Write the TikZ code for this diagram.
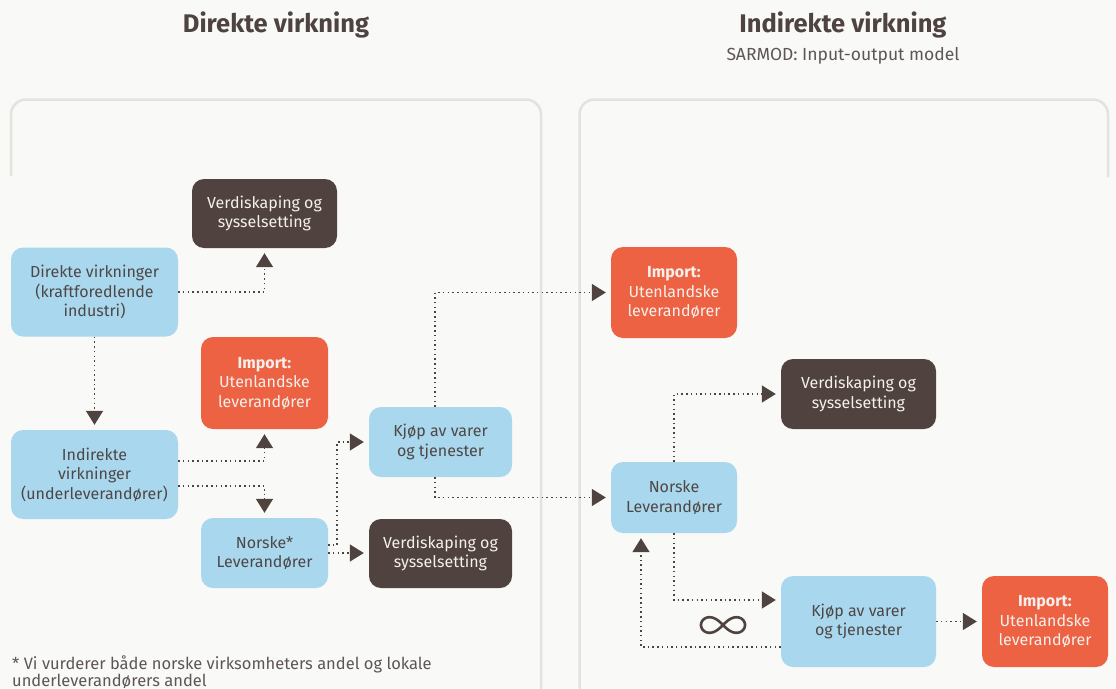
\documentclass[tikz,border=0pt]{standalone}
\usepackage{fontspec}
\setmainfont{Fira Sans}
\usetikzlibrary{arrows.meta}
\definecolor{bgc}{HTML}{F9F9F7}
\definecolor{panelc}{HTML}{E3E3DD}
\definecolor{boxblue}{HTML}{A9D8EE}
\definecolor{boxorange}{HTML}{EC6243}
\definecolor{boxdark}{HTML}{50433F}
\definecolor{txtdark}{HTML}{4E4745}
\definecolor{txtlight}{HTML}{F5F0EC}
\definecolor{titlec}{HTML}{4E4340}
\definecolor{subc}{HTML}{5E5654}
\definecolor{arrowc}{HTML}{4F433F}
\begin{document}
\begin{tikzpicture}[x=1pt,y=-1pt,
  box/.style={rounded corners=12pt, align=center, inner sep=0pt, font=\fontsize{16}{19.5}\selectfont},
  bluebox/.style={box, fill=boxblue, text=txtdark},
  darkbox/.style={box, fill=boxdark, text=txtlight},
  orangebox/.style={box, fill=boxorange, text=txtlight},
  link/.style={draw=arrowc, line width=1.5pt, dash pattern=on 1.5pt off 3.2pt,
    -{Triangle[width=17pt,length=14pt]}, shorten >=5pt},
  panel/.style={draw=panelc, line width=2.5pt, rounded corners=15pt},
  titletext/.style={anchor=base, text=titlec, font=\fontsize{25.5}{30}\selectfont\bfseries},
  subtext/.style={anchor=base, text=subc, font=\fontsize{17.5}{21}\selectfont},
  foottext/.style={anchor=base west, inner sep=0pt, text=subc, font=\fontsize{16.5}{19}\selectfont}]
\useasboundingbox (0,0) rectangle (1116,688);
\fill[bgc] (0,0) rectangle (1116,688);

% panels
\draw[panel] (11,176) -- (11,99.5) -- (541,99.5) -- (541,690);
\draw[panel] (579.5,690) -- (579.5,99.5) -- (1108,99.5) -- (1108,177);

% titles
\node[titletext] (t1) at (276,32) {Direkte virkning};
\node[titletext] (t2) at (843,32) {Indirekte virkning};
\node[subtext] (t3) at (843,60) {SARMOD: Input-output model};

% left nodes
\node[darkbox, minimum width=145pt, minimum height=69pt] (V1) at (264.5,213.5) {Verdiskaping og\\sysselsetting};
\node[bluebox, minimum width=167pt, minimum height=89pt] (D) at (94.5,292) {Direkte virkninger\\(kraftforedlende\\industri)};
\node[orangebox, minimum width=127pt, minimum height=92pt] (Imp1) at (264.5,383) {\textbf{Import:}\\Utenlandske\\leverandører};
\node[bluebox, minimum width=167pt, minimum height=89pt] (I) at (94.5,474.5) {Indirekte\\virkninger\\(underleverandører)};
\node[bluebox, minimum width=127pt, minimum height=70pt] (N1) at (264.5,553) {Norske*\\Leverandører};
\node[bluebox, minimum width=143pt, minimum height=70pt] (K1) at (440.5,442) {Kjøp av varer\\og tjenester};
\node[darkbox, minimum width=143pt, minimum height=69pt] (V2) at (440.5,553.5) {Verdiskaping og\\sysselsetting};

% right nodes
\node[orangebox, minimum width=126pt, minimum height=91pt] (Imp2) at (674,292.5) {\textbf{Import:}\\Utenlandske\\leverandører};
\node[bluebox, minimum width=126pt, minimum height=71pt] (N2) at (674,497.5) {Norske\\Leverandører};
\node[darkbox, minimum width=155pt, minimum height=70pt] (V3) at (858.5,394) {Verdiskaping og\\sysselsetting};
\node[bluebox, minimum width=155pt, minimum height=91pt] (K2) at (858.5,621.5) {Kjøp av varer\\og tjenester};
\node[orangebox, minimum width=126pt, minimum height=91pt] (Imp3) at (1045,621.5) {\textbf{Import:}\\Utenlandske\\leverandører};

% connectors left
\draw[link] (D.east) -| (V1.south);
\draw[link] (D.south) -- (I.north);
\draw[link] ([yshift=13.5pt]I.east) -| (Imp1.south);
\draw[link] ([yshift=-11.5pt]I.east) -| (N1.north);
\draw[link] ([yshift=8pt]N1.east) -- ++(9,0) |- (K1.west);
\draw[link] (N1.east) -- (N1.east -| V2.west);
\draw[link] ([xshift=-5.5pt]K1.north) |- (Imp2.west);
\draw[link] ([xshift=-5.5pt]K1.south) |- (N2.west);

% connectors right
\draw[link] (N2.north) |- (V3.west);
\draw[link] (N2.south) |- ([yshift=21.5pt]K2.west);
\draw[link] ([yshift=-25.5pt]K2.west) -| ([xshift=-33pt]N2.south);
\draw[link] (K2.east) -- (Imp3.west);

% infinity symbol
\draw[arrowc, line width=2.6pt] plot[domain=0:360, samples=120, smooth]
  ({22*cos(\x)/(1+(sin(\x))^2)+723}, {22*sin(\x)*cos(\x)/(1+(sin(\x))^2)+625}) -- cycle;

% footnote
\node[foottext] (f1) at (12,669) {* Vi vurderer både norske virksomheters andel og lokale};
\node[foottext] (f2) at (12,686.5) {underleverandørers andel};
\end{tikzpicture}
\end{document}
